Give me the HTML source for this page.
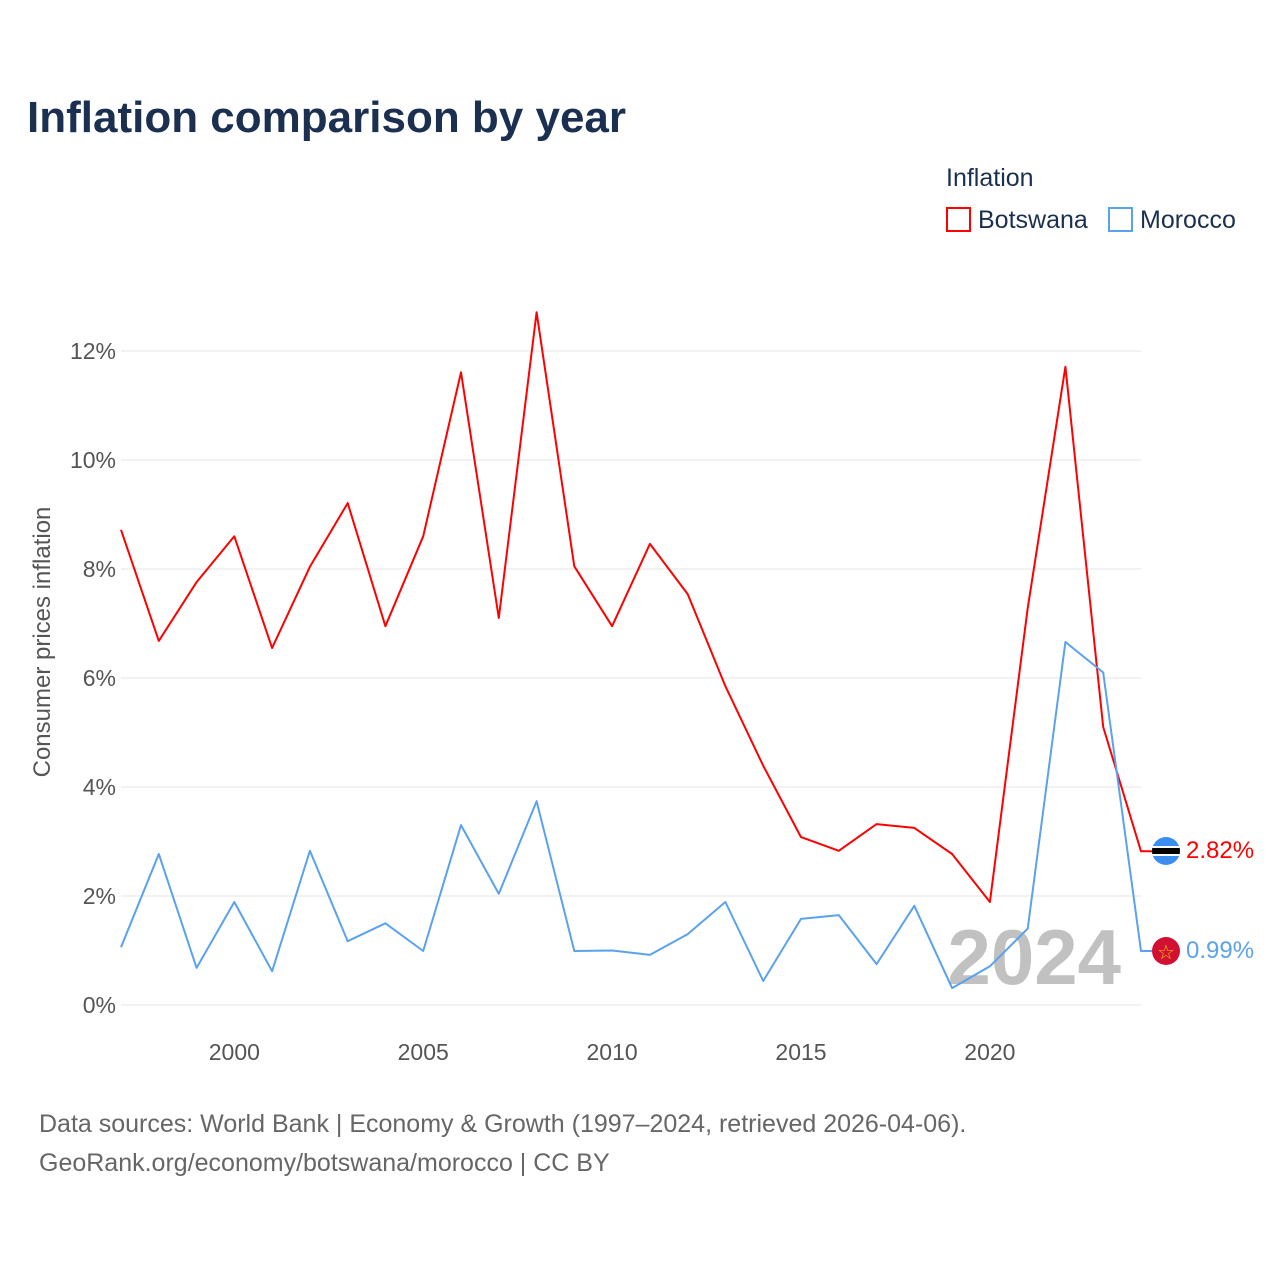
<!DOCTYPE html>
<html><head><meta charset="utf-8">
<style>
body{margin:0;background:#fff;font-family:"Liberation Sans",sans-serif;}
svg text{font-family:"Liberation Sans",sans-serif;}
</style></head>
<body>
<svg width="1280" height="1280" viewBox="0 0 1280 1280">
<text x="27" y="132" font-size="44" font-weight="bold" fill="#1b3050">Inflation comparison by year</text>
<text x="946" y="186" font-size="25" fill="#1b3050">Inflation</text>
<g>
<rect x="947" y="208" width="23" height="23" fill="none" stroke="#f00" stroke-width="2"/>
<text x="978" y="228" font-size="25" fill="#1b3050">Botswana</text></g>
<g>
<rect x="1109" y="208" width="23" height="23" fill="none" stroke="#5aa2ec" stroke-width="2"/>
<text x="1140" y="228" font-size="25" fill="#1b3050">Morocco</text></g>
<g id="grid"></g>
<g id="yticks"></g>
<g id="xticks"></g>
<text transform="translate(50,642) rotate(-90)" text-anchor="middle" font-size="24" fill="#555">Consumer prices inflation</text>
<text x="1121" y="984" text-anchor="end" font-size="78" font-weight="bold" fill="#bbb" opacity="0.9">2024</text>
<g id="series"></g>
<g>
<clipPath id="c1"><circle cx="1166" cy="851" r="14"/></clipPath>
<g clip-path="url(#c1)"><rect x="1150" y="836" width="32" height="30" fill="#3a8ef0"/><rect x="1150" y="846" width="32" height="10" fill="#fff"/><rect x="1150" y="848" width="32" height="6" fill="#000"/></g></g>
<g>
<circle cx="1166" cy="951" r="14" fill="#d21034"/>
<text x="1166" y="959" text-anchor="middle" font-size="20" fill="#f5c400">☆</text></g>
<text x="1186" y="858" font-size="24" fill="#f00">2.82%</text>
<text x="1186" y="958" font-size="24" fill="#5aa2ec">0.99%</text>
<text x="39" y="1132" font-size="25" fill="#666">Data sources: World Bank | Economy &amp; Growth (1997–2024, retrieved 2026-04-06).</text>
<text x="39" y="1171" font-size="25" fill="#666">GeoRank.org/economy/botswana/morocco | CC BY</text>
</svg>
<script>
const years=[1997,1998,1999,2000,2001,2002,2003,2004,2005,2006,2007,2008,2009,2010,2011,2012,2013,2014,2015,2016,2017,2018,2019,2020,2021,2022,2023,2024];
const botswana=[8.72,6.68,7.76,8.6,6.55,8.04,9.21,6.95,8.6,11.61,7.1,12.71,8.05,6.95,8.46,7.54,5.85,4.39,3.08,2.83,3.32,3.25,2.77,1.89,7.28,11.71,5.1,2.82];
const morocco=[1.06,2.77,0.68,1.89,0.62,2.83,1.17,1.5,0.99,3.3,2.04,3.74,0.99,1.0,0.92,1.3,1.89,0.44,1.58,1.65,0.75,1.82,0.31,0.71,1.4,6.66,6.1,0.99];
const yTicks=[0,2,4,6,8,10,12];
const xTicks=[2000,2005,2010,2015,2020];
const NS="http://www.w3.org/2000/svg";
const X=y=>121+(y-1997)*(1141-121)/27;
const Y=v=>1005-v*54.5;
function mk(t,a,p){const e=document.createElementNS(NS,t);for(const k in a)e.setAttribute(k,a[k]);p.appendChild(e);return e;}
const grid=document.getElementById('grid'),yt=document.getElementById('yticks'),xt=document.getElementById('xticks'),se=document.getElementById('series');
yTicks.forEach(v=>{
 const l=mk('line',{x1:121,x2:1141,y1:Y(v),y2:Y(v),stroke:'#e6e6e6','stroke-width':1},grid);
 
 
 const t=mk('text',{x:116,y:Y(v)+8,'text-anchor':'end','font-size':23,fill:'#555'},yt);
 t.textContent=v+'%';
 
 
});
xTicks.forEach(y=>{
 const t=mk('text',{x:X(y),y:1060,'text-anchor':'middle','font-size':23,fill:'#555'},xt);
 t.textContent=y;
 
 
});
function line(vals,color,name,cy){
 let d=vals.map((v,i)=>(i?'L':'M')+X(years[i]).toFixed(1)+','+Y(v).toFixed(1)).join('');
 d+='L1152,'+Y(vals[vals.length-1]).toFixed(1);
 const p=mk('path',{d:d,fill:'none',stroke:color,'stroke-width':2,'stroke-linejoin':'round'},se);
 
 
}
line(botswana,'#f00','botswana-line');
line(morocco,'#5aa2ec','morocco-line');
</script>
</body></html>
